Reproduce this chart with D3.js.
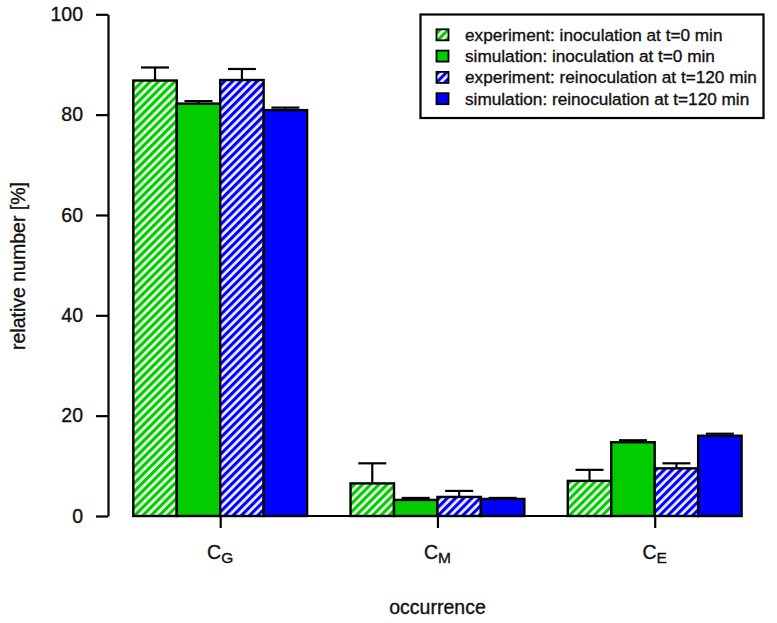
<!DOCTYPE html>
<html><head><meta charset="utf-8">
<script src="https://cdn.jsdelivr.net/npm/d3@7"></script>
<style>
body{margin:0;background:#fff;}
svg{display:block;font-family:"Liberation Sans",Arial,sans-serif;}
svg text{stroke:#111;stroke-width:0.35px;}
</style></head>
<body>
<svg id="chart" width="777" height="623"></svg>
<script>
const groups = ["G","M","E"];
const series = ["experiment: inoculation at t=0 min","simulation: inoculation at t=0 min","experiment: reinoculation at t=120 min","simulation: reinoculation at t=120 min"];
const seriesColors = ["#00CC00","#00CC00","#0000FF","#0000FF"];
const seriesHatched = [true,false,true,false];
// values per series, in group order G, M, E
const expInoc   = [86.8, 6.5, 7.0];
const simInoc   = [82.2, 3.2, 14.7];
const expReinoc = [86.9, 3.8, 9.5];
const simReinoc = [80.9, 3.4, 16.0];
// upper error bar ends
const expInocErr   = [89.4, 10.5, 9.2];
const simInocErr   = [82.7, 3.6, 15.1];
const expReinocErr = [89.1, 5.0, 10.5];
const simReinocErr = [81.4, 3.6, 16.4];
const yTicks = [0,20,40,60,80,100];

const values = [expInoc, simInoc, expReinoc, simReinoc];
const errs = [expInocErr, simInocErr, expReinocErr, simReinocErr];

const svg = d3.select("#chart");
const y = d3.scaleLinear().domain([0,100]).range([516,14.3]);
const x0 = d3.scaleBand().domain(groups).range([133.3,741.6]).paddingInner(0.2).paddingOuter(0);
const x1 = d3.scaleBand().domain(d3.range(series.length)).range([0,x0.bandwidth()]).padding(0);

const defs = svg.append("defs");
["#00CC00","#0000FF"].forEach((c,i)=>{
  const p = defs.append("pattern").attr("id","hatch"+i).attr("patternUnits","userSpaceOnUse")
    .attr("width",5.8).attr("height",20).attr("patternTransform","rotate(45)");
  p.append("rect").attr("width",5.8).attr("height",20).attr("fill", i===0 ? "#eefcee" : "#f2f2ff");
  p.append("rect").attr("width",3.1).attr("height",20).attr("fill",c);
});
function fillFor(si){
  if(seriesHatched[si]) return seriesColors[si]==="#00CC00" ? "url(#hatch0)" : "url(#hatch1)";
  return seriesColors[si];
}

const data = [];
groups.forEach((g,gi)=>series.forEach((s,si)=>data.push({g,si,v:values[si][gi],e:errs[si][gi]})));

// error bars
const eb = svg.append("g").attr("stroke","#000").attr("stroke-width",2.2);
data.forEach(d=>{
  const cx = x0(d.g)+x1(d.si)+x1.bandwidth()/2;
  eb.append("line").attr("x1",cx).attr("x2",cx).attr("y1",y(d.v)).attr("y2",y(d.e));
  eb.append("line").attr("x1",cx-14).attr("x2",cx+14).attr("y1",y(d.e)).attr("y2",y(d.e));
});

svg.append("g").selectAll("rect").data(data).join("rect")
  .attr("x",d=>x0(d.g)+x1(d.si))
  .attr("y",d=>y(d.v))
  .attr("width",x1.bandwidth())
  .attr("height",d=>y(0)-y(d.v))
  .attr("fill",d=>fillFor(d.si))
  .attr("stroke","#000").attr("stroke-width",2.4);

// y axis
const yAxis = svg.append("g").attr("transform","translate(108,0)")
  .call(d3.axisLeft(y).tickValues(yTicks).tickSize(12).tickPadding(13).tickSizeOuter(0));
yAxis.select(".domain").attr("stroke-width",2.2);
yAxis.selectAll(".tick line").attr("stroke-width",2.2);
yAxis.selectAll(".tick text").attr("font-size","19.5px").attr("fill","#111")
  .attr("font-family","'Liberation Sans',Arial,sans-serif");

// x axis
const xAxis = svg.append("g").attr("transform","translate(0,516)")
  .call(d3.axisBottom(d3.scalePoint().domain(groups).range([x0("G")+x0.bandwidth()/2, x0("E")+x0.bandwidth()/2])).tickSize(12).tickSizeOuter(0).tickFormat(""));
xAxis.select(".domain").remove();
xAxis.selectAll(".tick line").attr("stroke-width",2.2);
svg.append("line").attr("x1",x0.range()[0]).attr("x2",x0.range()[1]).attr("y1",y(0)).attr("y2",y(0))
  .attr("stroke","#000").attr("stroke-width",2.2);

// category labels C_G etc.
groups.forEach(g=>{
  const t = svg.append("text").attr("x",x0(g)+x0.bandwidth()/2).attr("y",559)
    .attr("text-anchor","middle").attr("font-size","19.5px").attr("fill","#111");
  t.append("tspan").text("C");
  t.append("tspan").attr("font-size","15.5px").attr("dy",4).text(g);
});

// axis titles
svg.append("text").attr("x",437.5).attr("y",614).attr("text-anchor","middle")
  .attr("font-size","19.5px").attr("fill","#111").text("occurrence");
svg.append("text").attr("transform","translate(25,266) rotate(-90)").attr("text-anchor","middle")
  .attr("font-size","19.5px").attr("fill","#111").text("relative number [%]");

// legend
const lg = svg.append("g");
lg.append("rect").attr("x",420.5).attr("y",14.5).attr("width",343).attr("height",103.5)
  .attr("fill","#fff").attr("stroke","#000").attr("stroke-width",2.2);
series.forEach((s,si)=>{
  const cy = 34.8 + si*21.3;
  lg.append("rect").attr("x",436.5).attr("y",cy-5.5).attr("width",12).attr("height",11)
    .attr("fill",fillFor(si)).attr("stroke","#000").attr("stroke-width",1.8);
  lg.append("text").attr("x",465).attr("y",cy+6).attr("font-size","17.2px").attr("fill","#111").text(s);
});
</script>
</body></html>
